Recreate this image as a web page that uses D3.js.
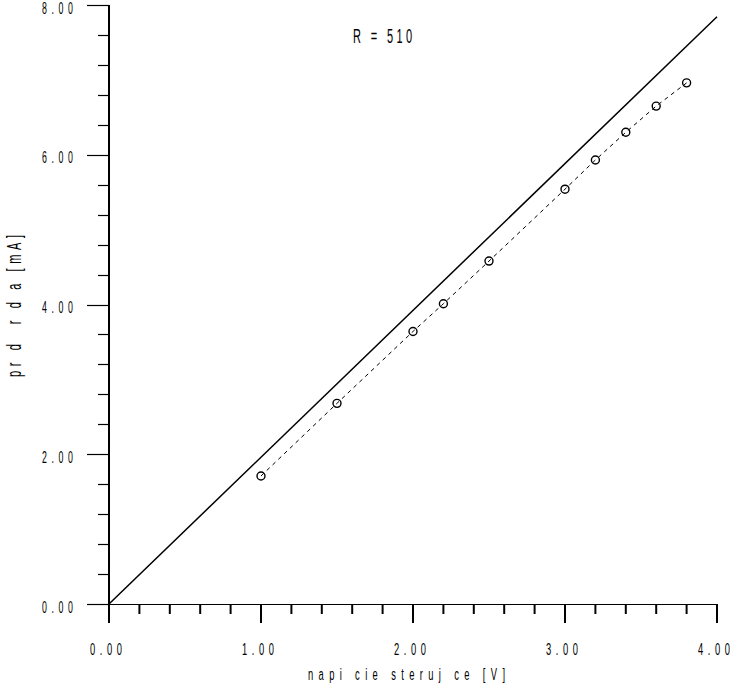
<!DOCTYPE html>
<html>
<head>
<meta charset="utf-8">
<script src="https://cdn.jsdelivr.net/npm/d3@7"></script>
<style>
  html, body { margin: 0; padding: 0; background: #fff; }
  svg { display: block; }
  text { font-family: "Liberation Sans", Arial, sans-serif; fill: #000; }
</style>
</head>
<body>
<svg id="chart" width="730" height="683"></svg>
<script>
// ---- data ----
const uMeasured = [1.0, 1.5, 2.0, 2.2, 2.5, 3.0, 3.2, 3.4, 3.6, 3.8];
const iMeasured = [1.71, 2.68, 3.64, 4.01, 4.58, 5.54, 5.93, 6.30, 6.65, 6.96];
const uTheory = [0, 4.0];
const iTheory = [0, 4.0 / 0.51];   // I = U / R, R = 510 ohm -> mA
const xMajorTicks = [0, 1, 2, 3, 4];
const xMinorTicks = [0.2, 0.4, 0.6, 0.8, 1.2, 1.4, 1.6, 1.8, 2.2, 2.4, 2.6, 2.8, 3.2, 3.4, 3.6, 3.8];
const yMajorTicks = [0, 2, 4, 6, 8];
const yMinorTicks = [0.4, 0.8, 1.2, 1.6, 2.4, 2.8, 3.2, 3.6, 4.4, 4.8, 5.2, 5.6, 6.4, 6.8, 7.2, 7.6];
const xTitle = "napi cie steruj ce [V]";
const yTitle = "pr d  r d a [mA]";
const annotation = "R = 510";

// ---- scales ----
const x = d3.scaleLinear().domain([0, 4]).range([109, 717]);
const y = d3.scaleLinear().domain([0, 8]).range([604, 5]);
const fmt = d3.format(".2f");

const svg = d3.select("#chart");
const SX = 0.55;

function narrowText(str, tx, ty, size, width, rotate) {
  const tr = rotate ? `translate(${tx},${ty}) rotate(-90) scale(${SX},1)`
                    : `translate(${tx},${ty}) scale(${SX},1)`;
  svg.append("text")
    .attr("transform", tr)
    .attr("font-size", size)
    .attr("textLength", width / SX)
    .attr("lengthAdjust", "spacing")
    .style("white-space", "pre")
    .attr("xml:space", "preserve")
    .text(str);
}

// ---- axes lines ----
svg.append("line")
  .attr("x1", x(0)).attr("x2", x(0))
  .attr("y1", y(8)).attr("y2", y(0) + 19)
  .attr("stroke", "#000").attr("stroke-width", 2);
svg.append("line")
  .attr("x1", x(0) - 22).attr("x2", x(4))
  .attr("y1", y(0) + 0.5).attr("y2", y(0) + 0.5)
  .attr("stroke", "#000").attr("stroke-width", 1.2);

// x ticks
svg.selectAll(".xmaj").data(xMajorTicks).enter().append("line")
  .attr("x1", d => x(d)).attr("x2", d => x(d))
  .attr("y1", y(0)).attr("y2", y(0) + 19)
  .attr("stroke", "#000").attr("stroke-width", 2);
svg.selectAll(".xmin").data(xMinorTicks).enter().append("line")
  .attr("x1", d => x(d)).attr("x2", d => x(d))
  .attr("y1", y(0)).attr("y2", y(0) + 10)
  .attr("stroke", "#000").attr("stroke-width", 2);

// y ticks
svg.selectAll(".ymaj").data(yMajorTicks).enter().append("line")
  .attr("x1", x(0) - 22).attr("x2", x(0))
  .attr("y1", d => Math.round(y(d)) + 0.5).attr("y2", d => Math.round(y(d)) + 0.5)
  .attr("stroke", "#000").attr("stroke-width", 1.2);
svg.selectAll(".ymin").data(yMinorTicks).enter().append("line")
  .attr("x1", x(0) - 11).attr("x2", x(0))
  .attr("y1", d => Math.round(y(d)) + 0.5).attr("y2", d => Math.round(y(d)) + 0.5)
  .attr("stroke", "#000").attr("stroke-width", 1.2);

// tick labels
xMajorTicks.forEach(d => narrowText(fmt(d), x(d) - 19, 655, 17, 32, false));
yMajorTicks.forEach(d => narrowText(fmt(d), 42, y(d) + 8.5, 16, 31, false));

// titles
narrowText(xTitle, 308, 680, 17, 197, false);
narrowText(yTitle, 21, 377, 20, 142, true);
narrowText(annotation, 353, 43, 20, 59, false);

// ---- theoretical line ----
const line = d3.line().x(d => x(d[0])).y(d => y(d[1]));
svg.append("path")
  .datum(uTheory.map((u, i) => [u, iTheory[i]]))
  .attr("d", line)
  .attr("fill", "none").attr("stroke", "#000").attr("stroke-width", 1.5);

// ---- measured dashed line ----
const meas = uMeasured.map((u, i) => [u, iMeasured[i]]);
svg.append("path")
  .datum(meas)
  .attr("d", line)
  .attr("fill", "none").attr("stroke", "#000").attr("stroke-width", 1)
  .attr("stroke-dasharray", "4,4");

svg.selectAll(".pt").data(meas).enter().append("circle")
  .attr("cx", d => x(d[0])).attr("cy", d => y(d[1]))
  .attr("r", 4)
  .attr("fill", "none").attr("stroke", "#000").attr("stroke-width", 1.4);
</script>
</body>
</html>
